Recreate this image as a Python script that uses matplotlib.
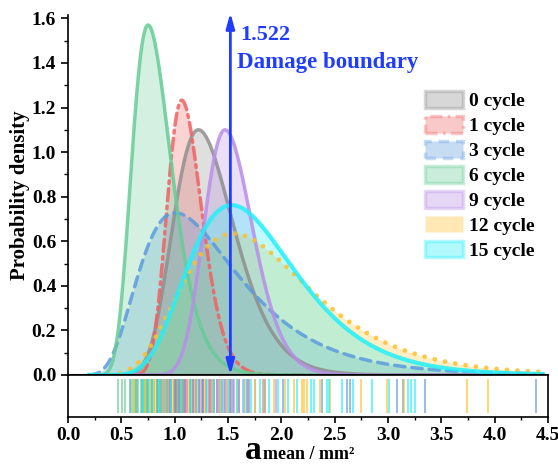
import numpy as np
import matplotlib.pyplot as plt
from matplotlib.patches import Patch
from matplotlib.ticker import MultipleLocator

plt.rcParams['font.family'] = 'Liberation Serif'
plt.rcParams['font.weight'] = 'bold'

labels = ['0 cycle', '1 cycle', '3 cycle', '6 cycle', '9 cycle', '12 cycle', '15 cycle']
colors = ['#8f8f8f', '#f06262', '#5b9bdf', '#66cc96', '#b98ee8', '#ffbf2a', '#22f0fa']
styles = ['-', (0, (3.5, 1.5, 0.8, 1.5)), (0, (3, 2)), '-', '-', (0, (0.01, 2.2)), '-']
widths = [2.5, 2.5, 2.5, 2.5, 2.5, 3.4, 3.0]

# fitted density curves: mode, peak height, left / right log-width
modes = [1.222, 1.066, 1.003, 0.750, 1.472, 1.550, 1.534]
peaks = [1.100, 1.233, 0.728, 1.570, 1.100, 0.635, 0.762]
width_l = [0.22, 0.14, 0.43, 0.23, 0.145, 0.39, 0.33]
width_r = [0.24, 0.16, 0.47, 0.255, 0.16, 0.38, 0.33]

# measured mean areas (rug)
s0 = [0.83, 0.90, 0.96, 1.01, 1.06, 1.10, 1.14, 1.17, 1.20, 1.23, 1.26, 1.29,
      1.33, 1.37, 1.42, 1.47, 1.53, 1.60, 1.70, 1.85]
s1 = [0.86, 0.90, 0.94, 0.97, 0.99, 1.01, 1.03, 1.05, 1.06, 1.08, 1.10, 1.12,
      1.14, 1.17, 1.20, 1.23, 1.27, 1.32, 1.40, 1.52]
s3 = [0.58, 0.64, 0.69, 0.74, 0.79, 0.84, 0.88, 0.92, 0.96, 1.00, 1.04, 1.09,
      1.14, 1.20, 1.27, 1.35, 1.44, 1.55, 1.68, 1.84, 2.02, 2.38, 2.62, 2.64,
      3.08, 3.14, 3.35, 4.385]
s6 = [0.47, 0.51, 0.53, 0.59, 0.61, 0.63, 0.65, 0.66, 0.68, 0.70, 0.71, 0.72,
      0.74, 0.75, 0.76, 0.78, 0.79, 0.81, 0.83, 0.85, 0.87, 0.90, 0.93, 0.97,
      1.02, 1.08, 1.16]
s9 = [1.10, 1.18, 1.24, 1.29, 1.33, 1.37, 1.40, 1.43, 1.46, 1.49, 1.52, 1.56,
      1.60, 1.64, 1.69, 1.75, 1.83, 1.95]
s12 = [0.62, 0.72, 0.82, 0.90, 0.98, 1.06, 1.13, 1.20, 1.28, 1.35, 1.43, 1.50,
       1.58, 1.66, 1.75, 1.84, 1.93, 2.03, 2.12, 2.19, 2.21, 2.24, 2.36, 2.46,
       2.75, 2.99, 3.15, 3.74, 3.94]
s15 = [0.70, 0.85, 0.97, 1.06, 1.14, 1.22, 1.30, 1.37, 1.44, 1.51, 1.58, 1.65,
       1.72, 1.80, 1.88, 1.97, 2.06, 2.15, 2.275, 2.31, 2.43, 2.45, 2.57, 2.67,
       2.85, 3.01, 3.19, 3.22, 3.25]
samples = [s0, s1, s3, s6, s9, s12, s15]

boundary = 1.522


def density(x, m, h, sl, sr):
    t = np.log(x / m)
    s = np.where(t < 0, sl, sr)
    return h * np.exp(-t ** 2 / (2 * s ** 2))


fig = plt.figure(figsize=(5.58, 4.66), dpi=100)
ax = fig.add_axes([0.1219, 0.1953, 0.8602, 0.7725])
axr = fig.add_axes([0.1219, 0.1052, 0.8602, 0.0901])

x = np.linspace(0.2, 4.45, 800)
for i in range(len(labels)):
    y = density(x, modes[i], peaks[i], width_l[i], width_r[i])
    ax.fill_between(x, y, color=colors[i], alpha=0.28, lw=0)
    ax.plot(x, y, color=colors[i], ls=styles[i], lw=widths[i], alpha=0.85,
            dash_capstyle='round')
    axr.vlines(samples[i], 0.1, 0.9, colors=colors[i], lw=1.3, alpha=0.7)

ax.annotate('', xy=(boundary, 1.625), xytext=(boundary, 0.0),
            arrowprops=dict(arrowstyle='<|-|>,head_length=0.9,head_width=0.25',
                            color='#1f3cff', lw=2, shrinkA=0, shrinkB=0),
            annotation_clip=False)
ax.text(1.612, 1.525, '1.522', color='#1f3cff', fontsize=16, va='center')
ax.text(1.584, 1.40, 'Damage boundary', color='#1f3cff', fontsize=16.5, va='center')

ax.set_xlim(0, 4.5)
ax.set_ylim(0, 1.615)
ax.spines['top'].set_visible(False)
ax.spines['right'].set_visible(False)
ax.spines['bottom'].set_linewidth(1.5)
ax.spines['left'].set_linewidth(1.2)
ax.set_xticks([])
ax.yaxis.set_major_locator(MultipleLocator(0.2))
ax.yaxis.set_minor_locator(MultipleLocator(0.1))
ax.tick_params(axis='y', which='major', direction='out', length=5, width=1.2, labelsize=14)
ax.tick_params(axis='y', which='minor', direction='out', length=3, width=1.0)
ax.yaxis.set_major_formatter(lambda v, p: f'{v:.1f}')
ax.set_ylabel('Probability density', fontsize=15, fontweight='bold', labelpad=1)

axr.set_xlim(0, 4.5)
axr.set_ylim(0, 1)
axr.set_yticks([])
axr.xaxis.set_major_locator(MultipleLocator(0.5))
axr.xaxis.set_minor_locator(MultipleLocator(0.25))
axr.tick_params(axis='x', which='major', direction='out', length=4, width=1.2, labelsize=14)
axr.tick_params(axis='x', which='minor', direction='out', length=2.5, width=1.0)
axr.xaxis.set_major_formatter(lambda v, p: f'{v:.1f}')
for sp in axr.spines.values():
    sp.set_linewidth(1.2)

handles = []
for i in range(len(labels)):
    handles.append(Patch(facecolor=colors[i], edgecolor=colors[i], alpha=0.35,
                         ls=styles[i], lw=2.5, capstyle='round', label=labels[i]))
ax.legend(handles=handles, loc='upper left', bbox_to_anchor=(0.727, 0.81),
          frameon=False, fontsize=14, handlelength=1.95, handleheight=0.95,
          handletextpad=0.3, labelspacing=0.3, borderaxespad=0)

fig.text(0.469, 0.015, 'a', fontsize=24, fontweight='bold', ha='right', va='baseline')
fig.text(0.471, 0.015, 'mean / mm²', fontsize=13, fontweight='bold', ha='left', va='baseline')

fig.savefig('out.png', dpi=100)
